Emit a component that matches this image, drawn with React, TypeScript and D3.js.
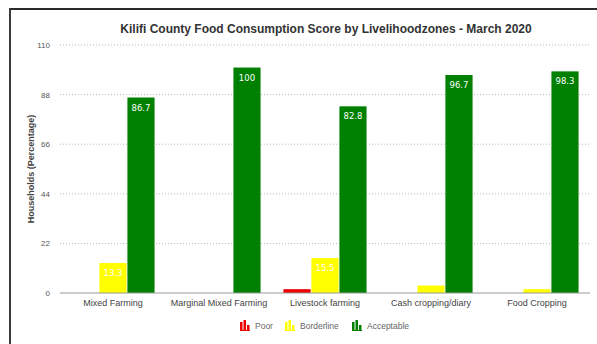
import React from "react";
import * as d3 from "d3";

const categories = ["Mixed Farming", "Marginal Mixed Farming", "Livestock farming", "Cash cropping/diary", "Food Cropping"];
const seriesNames = ["Poor", "Borderline", "Acceptable"];
const poor = [0, 0, 1.7, 0, 0];
const borderline = [13.3, 0, 15.5, 3.3, 1.7];
const acceptable = [86.7, 100, 82.8, 96.7, 98.3];
const yTicks = [0, 22, 44, 66, 88, 110];
const colors = ["#ee0000", "#ffff00", "#008000"];
const title = "Kilifi County Food Consumption Score by Livelihoodzones - March 2020";
const yTitle = "Households (Percentage)";

const W = 597, H = 344;
const left = 60, right = 590, top = 45, bottom = 293;

export default function App() {
  const series = [poor, borderline, acceptable];
  const x0 = d3.scaleBand<string>().domain(categories).range([left, right]).paddingInner(0.2).paddingOuter(0.1);
  const x1 = d3.scaleBand<string>().domain(seriesNames).range([0, x0.bandwidth()]).padding(0.03);
  const y = d3.scaleLinear().domain([0, 110]).range([bottom, top]);
  const font = "'Liberation Sans', Arial, sans-serif";

  const legendItems = [
    { name: "Poor", x: 240 },
    { name: "Borderline", x: 285 },
    { name: "Acceptable", x: 352 },
  ];

  return (
    <svg width={W} height={H} style={{ position: "absolute", left: 0, top: 0, background: "#fff" }}>
      <rect x={0} y={0} width={W} height={H} fill="#fff" />
      <line x1={9} y1={9} x2={W} y2={9} stroke="#2a2a2a" strokeWidth={2} />
      <line x1={10} y1={8} x2={10} y2={H} stroke="#3a3a3a" strokeWidth={2} />
      <text x={326} y={33} textAnchor="middle" fontFamily={font} fontWeight="bold" fontSize={12} fill="#333">{title}</text>
      {yTicks.map((t) => (
        <g key={t}>
          {t !== 0 && (
            <line x1={left} x2={right} y1={y(t)} y2={y(t)} stroke="#bbb" strokeWidth={1} strokeDasharray="1,2" />
          )}
          <text x={50} y={y(t) + 3} textAnchor="end" fontFamily={font} fontSize={8} fill="#555">{t}</text>
        </g>
      ))}
      <text transform={`translate(34,${(top + bottom) / 2}) rotate(-90)`} textAnchor="middle" fontFamily={font} fontWeight="bold" fontSize={9} fill="#444">{yTitle}</text>
      {categories.map((c, i) => (
        <g key={c} transform={`translate(${x0(c)},0)`}>
          {series.map((s, j) => {
            const v = s[i];
            if (v <= 0) return null;
            const bx = x1(seriesNames[j])!;
            const bw = x1.bandwidth();
            return (
              <g key={j}>
                <rect x={bx} y={y(v)} width={bw} height={y(0) - y(v)} fill={colors[j]} />
                {v >= 10 && (
                  <text x={bx + bw / 2} y={y(v) + 13} textAnchor="middle" fontFamily="'DejaVu Sans', sans-serif" fontSize={8.5} fill="#fff">{v}</text>
                )}
              </g>
            );
          })}
          <text x={x0.bandwidth() / 2} y={306} textAnchor="middle" fontFamily={font} fontSize={9} fill="#444">{c}</text>
        </g>
      ))}
      <line x1={left} x2={right} y1={y(0)} y2={y(0)} stroke="#999" strokeWidth={1} />
      {legendItems.map((l, i) => (
        <g key={l.name} transform={`translate(${l.x},320)`}>
          <rect x={0} y={2} width={2.5} height={8} fill={colors[i]} />
          <rect x={3.5} y={0} width={2.5} height={10} fill={colors[i]} />
          <rect x={7} y={5} width={2.5} height={5} fill={colors[i]} />
          <rect x={0} y={10} width={10} height={1} fill={colors[i]} />
          <text x={15} y={9} fontFamily={font} fontSize={8.5} fill="#666">{l.name}</text>
        </g>
      ))}
    </svg>
  );
}
